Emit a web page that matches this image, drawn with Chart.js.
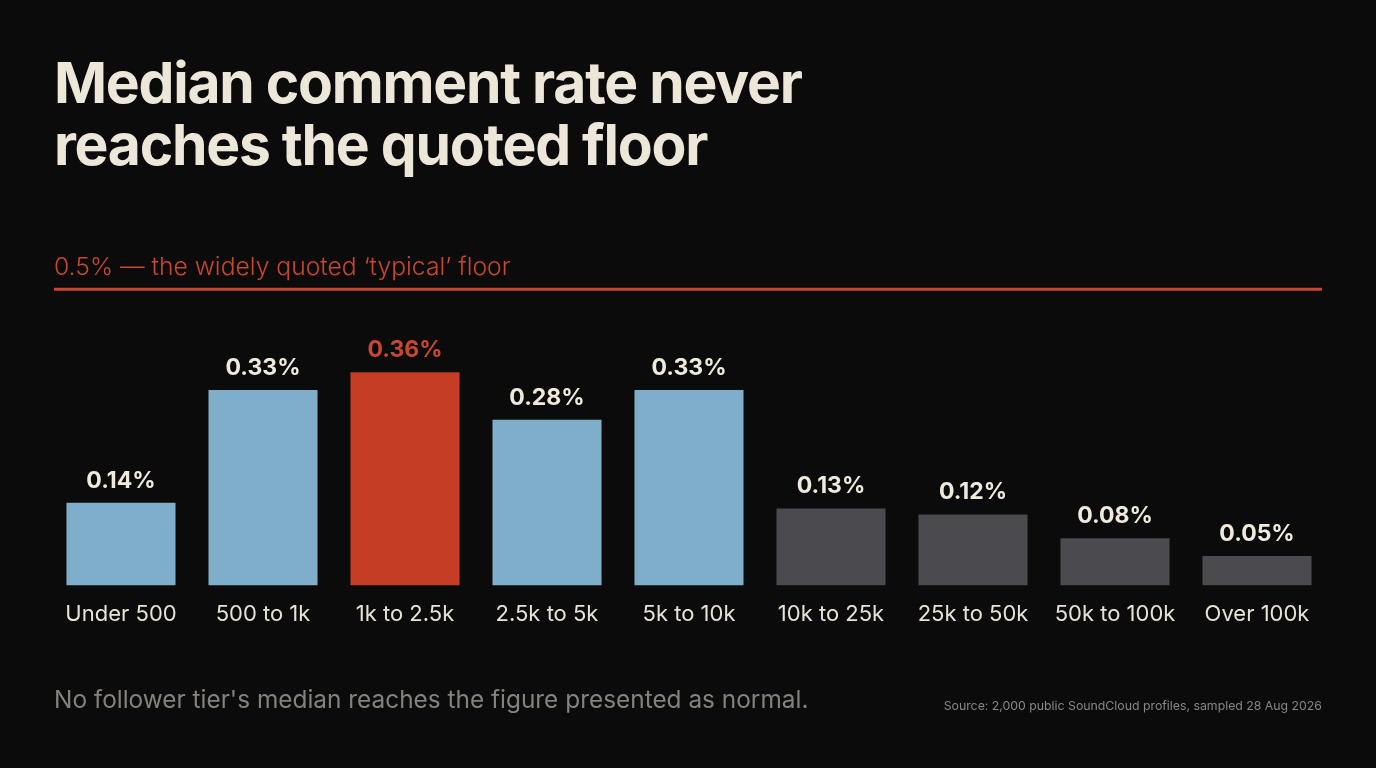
<!DOCTYPE html>
<html>
<head>
<meta charset="utf-8">
<script src="https://cdn.jsdelivr.net/npm/chart.js@4"></script>
<style>
  html, body { margin: 0; padding: 0; background: #0b0b0b; }
  #wrap { position: relative; width: 1376px; height: 768px; overflow: hidden; font-family: Inter, "Noto Sans", sans-serif; }
  h1 { position: absolute; left: 54px; top: 52px; margin: 0; font-size: 57px; line-height: 62px; font-weight: 700; color: #ede7da; letter-spacing: -1.25px; }
  .note { position: absolute; left: 54px; top: 684px; font-size: 24.4px; color: #85817b; font-weight: 400; }
  .src { position: absolute; right: 54px; top: 698px; font-size: 12.3px; color: #8a8680; }
  canvas { position: absolute; left: 0; top: 0; }
</style>
</head>
<body>
<div id="wrap">
  <h1>Median comment rate never<br>reaches the quoted floor</h1>
  <canvas id="chart" width="1376" height="768"></canvas>
  <div class="note">No follower tier's median reaches the figure presented as normal.</div>
  <div class="src">Source: 2,000 public SoundCloud profiles, sampled 28 Aug 2026</div>
</div>
<script>
const tiers = ["Under 500", "500 to 1k", "1k to 2.5k", "2.5k to 5k", "5k to 10k", "10k to 25k", "25k to 50k", "50k to 100k", "Over 100k"];
const medianRate = [0.14, 0.33, 0.36, 0.28, 0.33, 0.13, 0.12, 0.08, 0.05];
const barColors = ["#7eaeca", "#7eaeca", "#c63d26", "#7eaeca", "#7eaeca", "#4b4a4f", "#4b4a4f", "#4b4a4f", "#4b4a4f"];
const labelColors = ["#f0eadc", "#f0eadc", "#c9462f", "#f0eadc", "#f0eadc", "#f0eadc", "#f0eadc", "#f0eadc", "#f0eadc"];
const floorValue = 0.5;
const floorLabel = "0.5% \u2014 the widely quoted \u2018typical\u2019 floor";

const ctx = document.getElementById("chart").getContext("2d");

// value labels above each bar
const valueLabels = {
  id: "valueLabels",
  afterDatasetsDraw(chart) {
    const c = chart.ctx;
    const meta = chart.getDatasetMeta(0);
    c.save();
    c.font = "700 23px Inter, 'Noto Sans', sans-serif";
    c.textAlign = "center";
    c.textBaseline = "middle";
    meta.data.forEach((bar, i) => {
      c.fillStyle = labelColors[i];
      c.fillText(medianRate[i].toFixed(2) + "%", bar.x, bar.y - 22);
    });
    c.restore();
  }
};

// quoted floor line + its caption
const floorLine = {
  id: "floorLine",
  afterDatasetsDraw(chart) {
    const c = chart.ctx;
    const y = chart.scales.y.getPixelForValue(floorValue);
    c.save();
    c.strokeStyle = "#c9462f";
    c.lineWidth = 3;
    c.beginPath();
    c.moveTo(54, y);
    c.lineTo(1322, y);
    c.stroke();
    c.fillStyle = "#c9462f";
    c.font = "300 24.7px Inter, 'Noto Sans', sans-serif";
    c.textAlign = "left";
    c.textBaseline = "alphabetic";
    c.fillText(floorLabel, 54, y - 14);
    c.restore();
  }
};

chart = new Chart(ctx, {
  type: "bar",
  data: {
    labels: tiers,
    datasets: [
      {
        label: "Median comment rate",
        data: medianRate,
        backgroundColor: barColors,
        borderWidth: 0,
        categoryPercentage: 1,
        barPercentage: 0.768
      }
    ]
  },
  options: {
    responsive: false,
    animation: false,
    layout: { padding: { left: 50, right: 48, top: 230, bottom: 124 } },
    plugins: { legend: { display: false }, tooltip: { enabled: false } },
    scales: {
      y: { display: false, min: 0, max: 0.6 },
      x: {
        grid: { display: false, drawTicks: false },
        border: { display: false },
        ticks: {
          color: "#e8e2d6",
          padding: 16,
          font: { family: "Inter, 'Noto Sans', sans-serif", size: 22, weight: 400 }
        }
      }
    }
  },
  plugins: [valueLabels, floorLine]
});
</script>
</body>
</html>
